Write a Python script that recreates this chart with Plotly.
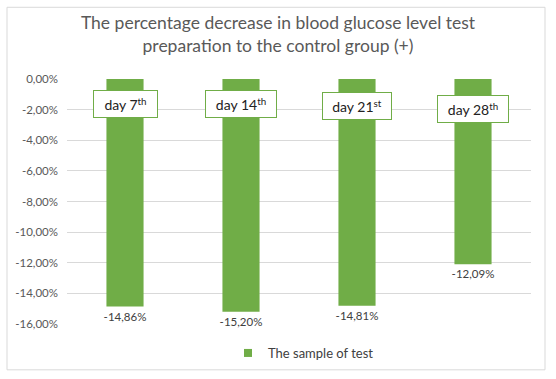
import plotly.graph_objects as go

categories = ["day 7", "day 14", "day 21", "day 28"]
suffixes = ["th", "th", "st", "th"]
values = [-14.86, -15.20, -14.81, -12.09]
series_name = "The sample of test"
tick_vals = [0, -2, -4, -6, -8, -10, -12, -14, -16]
tick_text = ["0,00%", "-2,00%", "-4,00%", "-6,00%", "-8,00%", "-10,00%", "-12,00%", "-14,00%", "-16,00%"]
value_labels = ["-14,86%", "-15,20%", "-14,81%", "-12,09%"]

GREEN = "#70AD47"
FONT = "Lato"

fig = go.Figure()
fig.add_trace(go.Bar(
    x=categories, y=values, name=series_name,
    marker=dict(color=GREEN, line=dict(width=0)),
    width=0.32,
    text=value_labels, textposition="outside", constraintext="none",
    textfont=dict(family=FONT, size=11.5, color="#404040"),
    cliponaxis=False,
    showlegend=False,
))
# legend entry with a small square marker
fig.add_trace(go.Scatter(
    x=[None], y=[None], mode="markers", name=series_name,
    marker=dict(symbol="square", size=8, color=GREEN),
    showlegend=True,
))

# label boxes
box_y = [-1.63, -1.66, -1.79, -1.95]
box_w = [55, 62, 60, 62]
annotations = []
for c, s, yy, w in zip(categories, suffixes, box_y, box_w):
    annotations.append(dict(
        x=c, y=yy, xref="x", yref="y",
        text=f"{c}<sup>{s}</sup>", showarrow=False,
        width=w, height=18,
        font=dict(family=FONT, size=14, color="#222222"),
        bgcolor="white", bordercolor=GREEN, borderwidth=1, borderpad=4,
    ))

fig.update_layout(
    width=556, height=379,
    margin=dict(l=67, r=25, t=79, b=54),
    paper_bgcolor="white", plot_bgcolor="white",
    title=dict(
        text="The percentage decrease in blood glucose level test<br>preparation to the control group (+)",
        x=0.5, xanchor="center", y=1 - 29/379, yanchor="middle",
        font=dict(family=FONT, size=17.5, color="#595959"),
    ),
    xaxis=dict(showticklabels=False, showgrid=False, zeroline=False, showline=False, ticks=""),
    yaxis=dict(range=[-16, 0], tickvals=tick_vals, ticktext=tick_text,
               showgrid=True, gridcolor="#D9D9D9", gridwidth=1,
               zeroline=False, showline=False, ticks="", ticklabelstandoff=8,
               tickfont=dict(family=FONT, size=11.5, color="#595959")),
    showlegend=True,
    legend=dict(orientation="h", x=(228 - 67) / 464, xanchor="left", y=(325 - 353) / 246, yanchor="middle",
                font=dict(family=FONT, size=13, color="#404040"),
                itemwidth=30),
    annotations=annotations,
    shapes=[dict(type="rect", xref="paper", yref="paper",
                 x0=(7 - 67) / 464, x1=(545 - 67) / 464,
                 y0=(325 - 371) / 246, y1=(325 - 7) / 246,
                 line=dict(color="#D9D9D9", width=1), fillcolor="rgba(0,0,0,0)",
                 layer="below")],
)

fig.write_html("out.html", config={"displayModeBar": False},
               post_script="document.body.style.margin='0';")
